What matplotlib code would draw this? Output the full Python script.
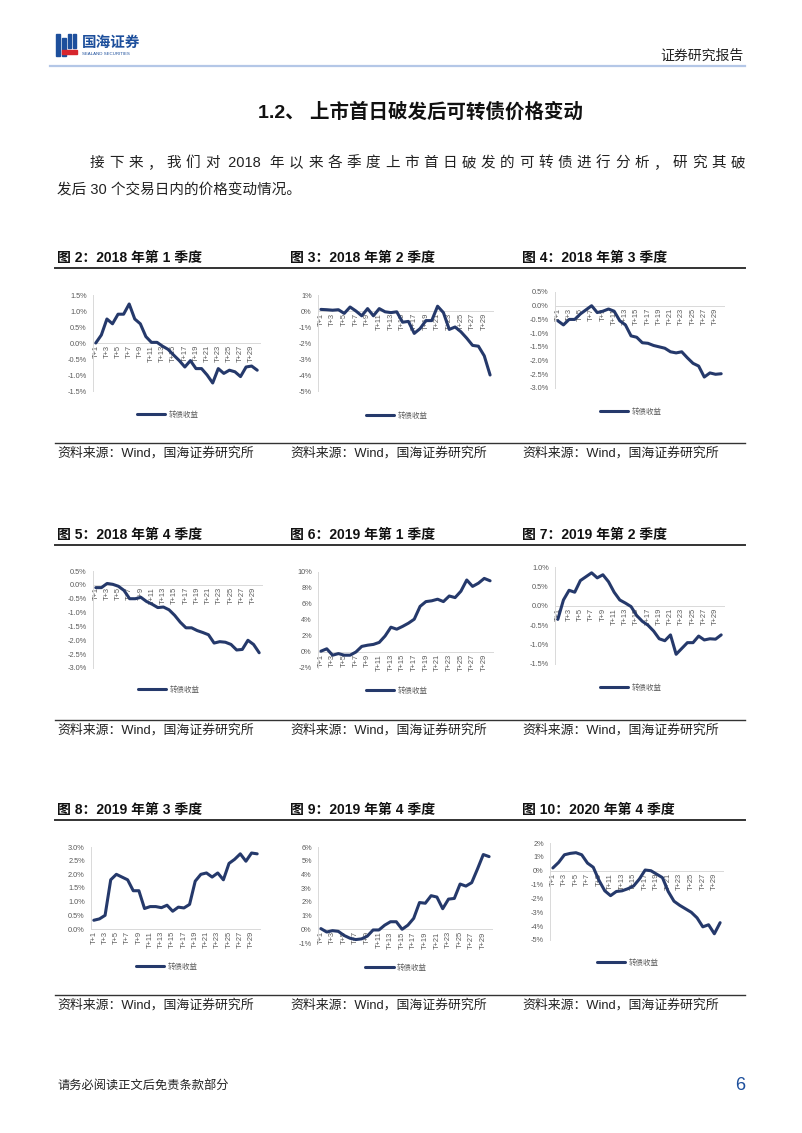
import matplotlib
matplotlib.use("Agg")
import matplotlib.pyplot as plt
from matplotlib.lines import Line2D
from matplotlib.patches import Rectangle
from matplotlib.ticker import FixedLocator, FuncFormatter
import numpy as np

W, H = 802, 1133
DPI = 100

LINE_COLOR = "#25396b"
AXIS_GRAY = "#d9d9d9"
TICK_GRAY = "#595959"
TEXT = "#222222"
BLUE = "#1d4f9c"

plt.rcParams["font.family"] = ["Liberation Sans", "Noto Sans CJK SC"]

# ---- data: cumulative return (%) of convertibles after first-day break, T+1..T+30
T_LABELS = [f"T+{i}" for i in range(1, 31)]

Q2018_1 = [0.0, 0.25, 0.75, 0.6, 0.9, 0.9, 1.22, 0.75, 0.6, 0.2,
           0.02, 0.02, -0.1, -0.2, -0.38, -0.55, -0.75, -0.55, -0.8, -0.8,
           -1.0, -1.25, -0.8, -0.95, -0.85, -0.9, -1.05, -0.75, -0.72, -0.85]
Q2018_2 = [0.1, 0.08, 0.05, 0.08, -0.15, 0.25, 0.0, -0.3, 0.15, -0.3,
           0.15, -0.05, -0.1, -0.05, -0.7, -0.65, -1.4, -1.1, -0.6, -0.6,
           0.3, -0.1, -1.15, -1.0, -1.3, -1.7, -2.15, -2.2, -2.8, -4.0]
Q2018_3 = [-0.55, -0.7, -0.5, -0.5, -0.3, -0.15, 0.0, -0.25, -0.2, -0.12,
           -0.2, -0.55, -0.7, -1.1, -1.15, -1.35, -1.37, -1.45, -1.5, -1.55,
           -1.68, -1.72, -1.68, -1.9, -2.1, -2.2, -2.6, -2.45, -2.5, -2.48]
Q2018_4 = [-0.1, -0.1, 0.05, 0.02, -0.05, -0.2, -0.5, -0.5, -0.45, -0.6,
           -0.7, -0.82, -0.8, -0.9, -1.1, -1.35, -1.55, -1.55, -1.65, -1.72,
           -1.8, -2.1, -2.05, -2.07, -2.15, -2.35, -2.33, -2.0, -2.15, -2.45]
Q2019_1 = [0.1, 0.4, -0.4, -0.2, -0.4, -0.4, 0.0, 0.7, 0.85, 0.95,
           1.2, 2.0, 3.1, 2.85, 3.2, 3.6, 4.1, 5.7, 6.3, 6.4,
           6.6, 6.3, 7.0, 6.8, 7.6, 9.0, 8.2, 8.6, 9.2, 8.9]
Q2019_2 = [-0.35, 0.15, 0.4, 0.35, 0.65, 0.75, 0.85, 0.72, 0.8, 0.62,
           0.35, 0.15, 0.07, -0.02, -0.25, -0.4, -0.5, -0.65, -0.85, -0.9,
           -0.75, -1.25, -1.1, -0.95, -0.95, -0.78, -0.88, -0.85, -0.86, -0.75]
Q2019_3 = [0.32, 0.37, 0.5, 1.8, 2.0, 1.9, 1.8, 1.4, 1.4, 0.75,
           0.82, 0.82, 0.78, 0.87, 0.65, 0.8, 0.77, 0.9, 1.75, 2.0,
           2.05, 1.9, 2.05, 1.8, 2.4, 2.55, 2.75, 2.48, 2.78, 2.75]
Q2019_4 = [0.05, -0.2, -0.1, -0.15, -0.45, -0.65, -0.75, -0.7, -0.5, -0.05,
           -0.05, 0.3, 0.55, 0.55, 0.0, 0.3, 0.8, 1.95, 1.9, 2.45,
           2.35, 1.5, 2.2, 2.25, 3.3, 3.15, 3.4, 4.4, 5.45, 5.3]
Q2020_4 = [0.2, 0.6, 1.15, 1.25, 1.3, 1.15, 0.55, 0.25, -0.7, -1.45,
           -1.8, -1.5, -1.45, -1.3, -1.1, -0.6, 0.05, 0.0, -0.25, -0.5,
           -1.5, -2.2, -2.5, -2.75, -3.0, -3.4, -4.05, -3.9, -4.55, -3.75]

TITLES = ["图 2：2018 年第 1 季度", "图 3：2018 年第 2 季度", "图 4：2018 年第 3 季度",
          "图 5：2018 年第 4 季度", "图 6：2019 年第 1 季度", "图 7：2019 年第 2 季度",
          "图 8：2019 年第 3 季度", "图 9：2019 年第 4 季度", "图 10：2020 年第 4 季度"]
SERIES = [Q2018_1, Q2018_2, Q2018_3, Q2018_4, Q2019_1, Q2019_2, Q2019_3, Q2019_4, Q2020_4]
# (ymin, ymax, step, decimals)
Y_AXES = [(-1.5, 1.5, 0.5, 1), (-5, 1, 1, 0), (-3, 0.5, 0.5, 1),
          (-3, 0.5, 0.5, 1), (-2, 10, 2, 0), (-1.5, 1.0, 0.5, 1),
          (0, 3, 0.5, 1), (-1, 6, 1, 0), (-5, 2, 1, 0)]

# plot boxes in page pixels: left, right, top, bottom
BOXES = [(93, 260, 295, 391), (318, 493, 295, 391), (555, 724, 292, 388),
         (93, 262, 571, 668), (318, 493, 572, 668), (555, 724, 567, 664),
         (91, 260, 847, 929), (318, 492, 847, 943), (550, 723, 843, 940)]
LEGEND_Y = [415, 416, 412, 690, 691, 688, 967, 968, 963]
COL_X = [57, 290, 522]
ROW_TITLE_Y = [258, 535, 810]


def fx(x):
    return x / W


def fy(y):
    return 1 - y / H


def hline(fig, x0, x1, y, lw, color):
    fig.add_artist(Line2D([fx(x0), fx(x1)], [fy(y), fy(y)], lw=lw, color=color,
                          transform=fig.transFigure))


def justified(fig, tokens, x0, x1, y, **kw):
    r = fig.canvas.get_renderer()
    arts = [fig.text(0, fy(y), t, va="center", **kw) for t in tokens]
    widths = [a.get_window_extent(r).width for a in arts]
    gap = (x1 - x0 - sum(widths)) / (len(tokens) - 1)
    x = x0
    for a, w in zip(arts, widths):
        a.set_x(fx(x))
        x += w + gap


fig = plt.figure(figsize=(W / DPI, H / DPI), dpi=DPI)
fig.patch.set_facecolor("white")

# ---- header
for (x, y, w, h, c) in [(56, 34, 4, 22, BLUE), (62, 38, 4, 18, BLUE), (68, 34, 3, 14, BLUE),
                        (73, 34, 3, 14, BLUE), (62, 50, 15, 4, "#d7262e")]:
    fig.add_artist(Rectangle((fx(x), fy(y + h)), w / W, h / H, color=c,
                             transform=fig.transFigure))
fig.text(fx(82), fy(43), "国海证券", fontsize=10.5, fontweight="bold", color=BLUE, va="center")
fig.text(fx(82), fy(54), "SEALAND SECURITIES", fontsize=3.2, color=BLUE, va="center")
fig.text(fx(744), fy(56), "证券研究报告", fontsize=10, color=TEXT, va="center", ha="right")
hline(fig, 50, 745, 66, 1.6, "#b4c7e7")

# ---- section heading and paragraph
fig.text(fx(258), fy(112), "1.2、 上市首日破发后可转债价格变动", fontsize=14,
         fontweight="bold", color="#111111", va="center")
tokens = list("接下来，我们对") + [" 2018 "] + list("年以来各季度上市首日破发的可转债进行分析，研究其破")
justified(fig, tokens, 90, 745, 163, fontsize=10.5, color=TEXT)
fig.text(fx(57), fy(191), "发后 30 个交易日内的价格变动情况。", fontsize=10.5, color=TEXT, va="center")

# ---- title / source rules
for ty in ROW_TITLE_Y:
    hline(fig, 55, 745, ty + 10, 1.4, "#333333")
    hline(fig, 55, 745, ty + 185, 1.0, "#333333")

for i, (title, vals, (ymin, ymax, step, dec), box) in enumerate(zip(TITLES, SERIES, Y_AXES, BOXES)):
    row, col = divmod(i, 3)
    ty = ROW_TITLE_Y[row]
    fig.text(fx(COL_X[col]), fy(ty), title, fontsize=10, fontweight="bold",
             color="#111111", va="center")
    fig.text(fx(COL_X[col]), fy(ty + 195), "资料来源：Wind，国海证券研究所", fontsize=9.3,
             color=TEXT, va="center")

    l, r, t, b = box
    ax = fig.add_axes([fx(l), fy(b), (r - l) / W, (b - t) / H])
    x = np.arange(1, 31)
    ax.plot(x, vals, color=LINE_COLOR, lw=2.2, solid_joinstyle="round",
            solid_capstyle="round", label="转债收益", zorder=3)
    ax.set_xlim(0.5, 30.5)
    ax.set_ylim(ymin, ymax)

    for s in ["top", "right"]:
        ax.spines[s].set_visible(False)
    ax.spines["left"].set_color(AXIS_GRAY)
    ax.spines["left"].set_linewidth(0.7)
    ax.spines["bottom"].set_color(AXIS_GRAY)
    ax.spines["bottom"].set_linewidth(0.7)
    ax.spines["bottom"].set_position(("data", 0))

    yt = np.round(np.arange(ymin, ymax + step / 2, step), 2)
    ax.yaxis.set_major_locator(FixedLocator(yt))
    ax.yaxis.set_major_formatter(FuncFormatter(lambda v, p, d=dec: f"{v:.{d}f}%"))
    ax.xaxis.set_major_locator(FixedLocator(x[::2]))
    ax.set_xticklabels(T_LABELS[::2], rotation=90)
    ax.tick_params(axis="y", length=0, pad=4.5, labelsize=5.3, labelcolor=TICK_GRAY)
    ax.tick_params(axis="x", length=0, pad=1.5, labelsize=5.4, labelcolor=TICK_GRAY)
    ax.patch.set_alpha(0)

    ax.legend(loc="center", bbox_to_anchor=(fx((l + r) / 2 - 9), fy(LEGEND_Y[i])),
              bbox_transform=fig.transFigure, frameon=False, fontsize=5.4,
              handlelength=3.8, handletextpad=0.4, labelcolor=TICK_GRAY)

# ---- footer
fig.text(fx(57), fy(1086), "请务必阅读正文后免责条款部分", fontsize=8.8, color=TEXT, va="center")
fig.text(fx(745), fy(1085), "6", fontsize=13, color=BLUE, va="center", ha="right")

fig.savefig("out.png", dpi=DPI, facecolor="white")
